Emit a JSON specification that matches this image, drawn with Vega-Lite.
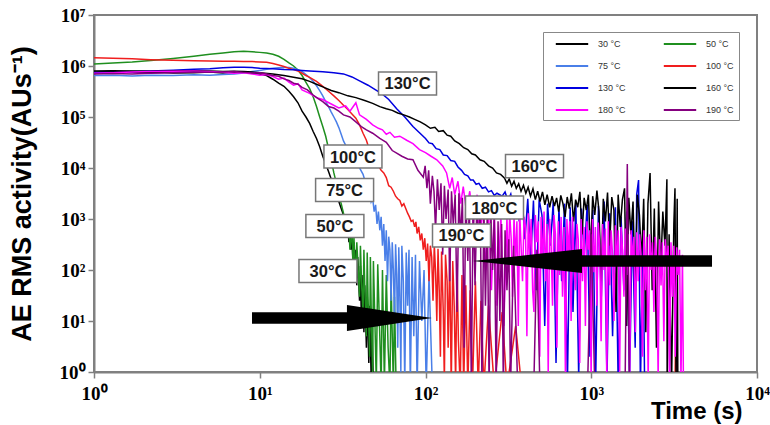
{
"$schema":"https://vega.github.io/schema/vega-lite/v6.json",
"width":663,"height":357,
"autosize":"none",
"padding":{"left":94,"top":15,"right":13,"bottom":53},
"background":"white",
"view":{"stroke":"#808080","strokeWidth":2},
"config":{"font":"Liberation Sans"},
"datasets":{
"curves":[
{"s":30,"t":1,"v":7.5e5},{"s":30,"t":1.2,"v":7.8e5},{"s":30,"t":1.5,"v":7.6e5},{"s":30,"t":2,"v":7.4e5},{"s":30,"t":2.5,"v":7.5e5},{"s":30,"t":3,"v":7.3e5},{"s":30,"t":4,"v":7.4e5},{"s":30,"t":5,"v":7.6e5},{"s":30,"t":6,"v":7.3e5},{"s":30,"t":7,"v":7.5e5},{"s":30,"t":8,"v":7.7e5},{"s":30,"t":9,"v":7.2e5},{"s":30,"t":10,"v":7.0e5},{"s":30,"t":11,"v":6.5e5},{"s":30,"t":12,"v":5.5e5},{"s":30,"t":13,"v":4.6e5},{"s":30,"t":14,"v":4.0e5},{"s":30,"t":15,"v":3.2e5},{"s":30,"t":16,"v":2.5e5},{"s":30,"t":17,"v":1.9e5},{"s":30,"t":18,"v":1.3e5},{"s":30,"t":19,"v":1.0e5},{"s":30,"t":20,"v":7.5e4},{"s":30,"t":21,"v":5.2e4},{"s":30,"t":22,"v":3.8e4},{"s":30,"t":23,"v":2.6e4},{"s":30,"t":24,"v":1.7e4},{"s":30,"t":25,"v":1.2e4},{"s":30,"t":26,"v":8.5e3},{"s":30,"t":27,"v":6e3},{"s":30,"t":28,"v":4.2e3},{"s":30,"t":29,"v":3.2e3},{"s":30,"t":30,"v":2.2e3},{"s":30,"t":31,"v":1.6e3},{"s":30,"t":32,"v":1.2e3},{"s":30,"t":33,"v":900},{"s":30,"t":33.5,"v":550},{"s":30,"t":34,"v":750},{"s":30,"t":34.5,"v":350},{"s":30,"t":35,"v":650},{"s":30,"t":35.5,"v":250},{"s":30,"t":36,"v":450},{"s":30,"t":36.5,"v":150},{"s":30,"t":37,"v":350},{"s":30,"t":37.5,"v":90},{"s":30,"t":38,"v":250},{"s":30,"t":38.5,"v":50},{"s":30,"t":39,"v":180},{"s":30,"t":40,"v":25},{"s":30,"t":40.5,"v":120},{"s":30,"t":41,"v":12},{"s":30,"t":42,"v":80},{"s":30,"t":42.5,"v":6},{"s":30,"t":43,"v":50},{"s":30,"t":44,"v":3},{"s":30,"t":44.5,"v":30},{"s":30,"t":45.5,"v":1.5},{"s":30,"t":46,"v":20},{"s":30,"t":47,"v":0.8},{"s":30,"t":47.5,"v":10},{"s":30,"t":48.5,"v":0.5},
{"s":50,"t":1,"v":1.1e6},{"s":50,"t":1.3,"v":1.15e6},{"s":50,"t":1.7,"v":1.2e6},{"s":50,"t":2.2,"v":1.28e6},{"s":50,"t":3,"v":1.4e6},{"s":50,"t":4,"v":1.55e6},{"s":50,"t":5,"v":1.7e6},{"s":50,"t":6,"v":1.8e6},{"s":50,"t":7,"v":1.9e6},{"s":50,"t":8,"v":1.95e6},{"s":50,"t":9,"v":1.9e6},{"s":50,"t":10,"v":1.85e6},{"s":50,"t":11,"v":1.8e6},{"s":50,"t":12,"v":1.7e6},{"s":50,"t":13,"v":1.55e6},{"s":50,"t":14,"v":1.35e6},{"s":50,"t":15,"v":1.15e6},{"s":50,"t":16,"v":1.0e6},{"s":50,"t":17,"v":8.3e5},{"s":50,"t":18,"v":6.5e5},{"s":50,"t":19,"v":4.8e5},{"s":50,"t":20,"v":3.6e5},{"s":50,"t":21,"v":2.5e5},{"s":50,"t":22,"v":1.6e5},{"s":50,"t":23,"v":1.0e5},{"s":50,"t":24,"v":6.5e4},{"s":50,"t":25,"v":4.2e4},{"s":50,"t":26,"v":2.4e4},{"s":50,"t":27,"v":1.4e4},{"s":50,"t":28,"v":8e3},{"s":50,"t":29,"v":5e3},{"s":50,"t":30,"v":2.8e3},{"s":50,"t":31,"v":2e3},{"s":50,"t":32,"v":1.3e3},{"s":50,"t":33,"v":950},{"s":50,"t":34,"v":500},{"s":50,"t":34.5,"v":700},{"s":50,"t":35,"v":250},{"s":50,"t":36,"v":600},{"s":50,"t":36.5,"v":120},{"s":50,"t":37,"v":450},{"s":50,"t":38,"v":60},{"s":50,"t":38.5,"v":350},{"s":50,"t":39,"v":150},{"s":50,"t":40,"v":30},{"s":50,"t":40.5,"v":300},{"s":50,"t":41,"v":80},{"s":50,"t":42,"v":12},{"s":50,"t":42.5,"v":250},{"s":50,"t":43,"v":50},{"s":50,"t":44,"v":5},{"s":50,"t":44.5,"v":220},{"s":50,"t":45,"v":30},{"s":50,"t":46,"v":2},{"s":50,"t":46.5,"v":180},{"s":50,"t":47,"v":20},{"s":50,"t":48,"v":0.8},{"s":50,"t":48.5,"v":150},{"s":50,"t":49.5,"v":10},{"s":50,"t":50.5,"v":0.6},{"s":50,"t":51.5,"v":130},{"s":50,"t":53,"v":5},{"s":50,"t":54,"v":0.5},{"s":50,"t":55,"v":100},{"s":50,"t":56.5,"v":0.6},{"s":50,"t":58,"v":80},{"s":50,"t":59.5,"v":3},{"s":50,"t":61,"v":0.5},{"s":50,"t":62,"v":60},{"s":50,"t":64,"v":0.5},{"s":50,"t":65,"v":30},{"s":50,"t":66.5,"v":0.5},
{"s":75,"t":1,"v":6.5e5},{"s":75,"t":1.3,"v":6.6e5},{"s":75,"t":1.7,"v":6.4e5},{"s":75,"t":2.2,"v":6.6e5},{"s":75,"t":3,"v":6.5e5},{"s":75,"t":4,"v":6.7e5},{"s":75,"t":5,"v":6.6e5},{"s":75,"t":6,"v":6.8e5},{"s":75,"t":7,"v":7e5},{"s":75,"t":8,"v":7.3e5},{"s":75,"t":9,"v":7.8e5},{"s":75,"t":10,"v":8.2e5},{"s":75,"t":11,"v":8.6e5},{"s":75,"t":12,"v":9e5},{"s":75,"t":13,"v":9.2e5},{"s":75,"t":14,"v":9.4e5},{"s":75,"t":15,"v":9.3e5},{"s":75,"t":16,"v":9e5},{"s":75,"t":17,"v":8.5e5},{"s":75,"t":18,"v":7.8e5},{"s":75,"t":19,"v":6.8e5},{"s":75,"t":20,"v":5.9e5},{"s":75,"t":21,"v":5e5},{"s":75,"t":22,"v":4.1e5},{"s":75,"t":23,"v":3.3e5},{"s":75,"t":24,"v":2.6e5},{"s":75,"t":25,"v":2e5},{"s":75,"t":26,"v":1.6e5},{"s":75,"t":27,"v":1.25e5},{"s":75,"t":28,"v":1e5},{"s":75,"t":29,"v":8e4},{"s":75,"t":30,"v":6.2e4},{"s":75,"t":31,"v":4.6e4},{"s":75,"t":32,"v":3.4e4},{"s":75,"t":34,"v":2.3e4},{"s":75,"t":36,"v":1.7e4},{"s":75,"t":38,"v":1.3e4},{"s":75,"t":40,"v":1e4},{"s":75,"t":42,"v":7.5e3},{"s":75,"t":44,"v":4.5e3},{"s":75,"t":45,"v":3e3},{"s":75,"t":46,"v":3.6e3},{"s":75,"t":47,"v":2.2e3},{"s":75,"t":48,"v":2.6e3},{"s":75,"t":49,"v":1.4e3},{"s":75,"t":50,"v":1.9e3},{"s":75,"t":51,"v":800},{"s":75,"t":52,"v":1.4e3},{"s":75,"t":53,"v":600},{"s":75,"t":54,"v":1.1e3},{"s":75,"t":55,"v":300},{"s":75,"t":56,"v":800},{"s":75,"t":57,"v":150},{"s":75,"t":58,"v":600},{"s":75,"t":59,"v":60},{"s":75,"t":60,"v":450},{"s":75,"t":61,"v":250},{"s":75,"t":62,"v":25},{"s":75,"t":63,"v":350},{"s":75,"t":64,"v":100},{"s":75,"t":65,"v":10},{"s":75,"t":66,"v":320},{"s":75,"t":67,"v":80},{"s":75,"t":68,"v":3},{"s":75,"t":69,"v":280},{"s":75,"t":70,"v":30},{"s":75,"t":71,"v":1},{"s":75,"t":72,"v":300},{"s":75,"t":73.5,"v":60},{"s":75,"t":75,"v":0.6},{"s":75,"t":76.5,"v":220},{"s":75,"t":78,"v":20},{"s":75,"t":79.5,"v":250},{"s":75,"t":81,"v":0.5},{"s":75,"t":83,"v":180},{"s":75,"t":85,"v":5},{"s":75,"t":87,"v":200},{"s":75,"t":89,"v":0.5},{"s":75,"t":92,"v":150},{"s":75,"t":95,"v":10},{"s":75,"t":98,"v":100},{"s":75,"t":101,"v":0.5},{"s":75,"t":105,"v":80},{"s":75,"t":110,"v":0.5},
{"s":100,"t":1,"v":1.45e6},{"s":100,"t":1.3,"v":1.42e6},{"s":100,"t":1.7,"v":1.38e6},{"s":100,"t":2.2,"v":1.33e6},{"s":100,"t":3,"v":1.3e6},{"s":100,"t":4,"v":1.27e6},{"s":100,"t":5,"v":1.25e6},{"s":100,"t":6,"v":1.24e6},{"s":100,"t":7,"v":1.24e6},{"s":100,"t":8,"v":1.22e6},{"s":100,"t":9,"v":1.22e6},{"s":100,"t":10,"v":1.2e6},{"s":100,"t":11,"v":1.18e6},{"s":100,"t":12,"v":1.12e6},{"s":100,"t":13,"v":1.05e6},{"s":100,"t":14,"v":9.8e5},{"s":100,"t":15,"v":9e5},{"s":100,"t":16,"v":8.5e5},{"s":100,"t":17,"v":8e5},{"s":100,"t":18,"v":7.2e5},{"s":100,"t":19,"v":6.5e5},{"s":100,"t":20,"v":6e5},{"s":100,"t":22,"v":5e5},{"s":100,"t":24,"v":4e5},{"s":100,"t":26,"v":3.2e5},{"s":100,"t":28,"v":2.6e5},{"s":100,"t":30,"v":2.1e5},{"s":100,"t":32,"v":1.7e5},{"s":100,"t":34,"v":1.4e5},{"s":100,"t":36,"v":1.15e5},{"s":100,"t":38,"v":9.5e4},{"s":100,"t":40,"v":7e4},{"s":100,"t":42,"v":4.8e4},{"s":100,"t":44,"v":3.5e4},{"s":100,"t":46,"v":2.2e4},{"s":100,"t":48,"v":2e4},{"s":100,"t":50,"v":1.4e4},{"s":100,"t":52,"v":1.1e4},{"s":100,"t":54,"v":9e3},{"s":100,"t":56,"v":8e3},{"s":100,"t":58,"v":6.5e3},{"s":100,"t":60,"v":4.5e3},{"s":100,"t":62,"v":4.2e3},{"s":100,"t":64,"v":3.5e3},{"s":100,"t":66,"v":2.8e3},{"s":100,"t":68,"v":2.5e3},{"s":100,"t":70,"v":2.3e3},{"s":100,"t":72,"v":1.8e3},{"s":100,"t":74,"v":2e3},{"s":100,"t":76,"v":1.6e3},{"s":100,"t":78,"v":1.3e3},{"s":100,"t":80,"v":1.1e3},{"s":100,"t":82,"v":900},{"s":100,"t":84,"v":950},{"s":100,"t":86,"v":700},{"s":100,"t":87.5,"v":880},{"s":100,"t":89,"v":520},{"s":100,"t":91,"v":700},{"s":100,"t":93,"v":380},{"s":100,"t":95,"v":520},{"s":100,"t":97,"v":250},{"s":100,"t":99,"v":420},{"s":100,"t":101,"v":150},{"s":100,"t":103,"v":330},{"s":100,"t":105,"v":60},{"s":100,"t":107,"v":300},{"s":100,"t":109,"v":180},{"s":100,"t":111,"v":25},{"s":100,"t":113,"v":320},{"s":100,"t":115,"v":90},{"s":100,"t":117,"v":10},{"s":100,"t":119,"v":260},{"s":100,"t":121,"v":40},{"s":100,"t":123,"v":2},{"s":100,"t":125,"v":230},{"s":100,"t":128,"v":15},{"s":100,"t":130,"v":0.6},{"s":100,"t":132,"v":200},{"s":100,"t":135,"v":60},{"s":100,"t":137,"v":3},{"s":100,"t":140,"v":180},{"s":100,"t":143,"v":0.5},{"s":100,"t":146,"v":150},{"s":100,"t":149,"v":20},{"s":100,"t":152,"v":0.6},{"s":100,"t":155,"v":120},{"s":100,"t":158,"v":4},{"s":100,"t":162,"v":0.5},{"s":100,"t":166,"v":80},{"s":100,"t":170,"v":0.5},{"s":100,"t":175,"v":50},{"s":100,"t":180,"v":0.5},{"s":100,"t":186,"v":40},{"s":100,"t":192,"v":0.5},{"s":100,"t":200,"v":60},{"s":100,"t":208,"v":0.5},{"s":100,"t":216,"v":25},{"s":100,"t":225,"v":0.5},{"s":100,"t":240,"v":20},{"s":100,"t":260,"v":0.5},{"s":100,"t":290,"v":15},{"s":100,"t":310,"v":0.5},{"s":100,"t":350,"v":8},{"s":100,"t":380,"v":0.5},{"s":100,"t":3200,"v":0.5},{"s":100,"t":3250,"v":30},{"s":100,"t":3300,"v":0.5},
{"s":130,"t":1,"v":7.5e5},{"s":130,"t":1.3,"v":7.6e5},{"s":130,"t":1.7,"v":7.8e5},{"s":130,"t":2.2,"v":8e5},{"s":130,"t":3,"v":8.3e5},{"s":130,"t":4,"v":8.6e5},{"s":130,"t":5,"v":8.8e5},{"s":130,"t":6,"v":9.2e5},{"s":130,"t":7,"v":9.5e5},{"s":130,"t":8,"v":9.5e5},{"s":130,"t":9,"v":9.3e5},{"s":130,"t":10,"v":9e5},{"s":130,"t":12,"v":8.8e5},{"s":130,"t":14,"v":8.5e5},{"s":130,"t":16,"v":8.4e5},{"s":130,"t":18,"v":8.2e5},{"s":130,"t":20,"v":8e5},{"s":130,"t":24,"v":7.7e5},{"s":130,"t":28,"v":7.4e5},{"s":130,"t":32,"v":7e5},{"s":130,"t":36,"v":6.1e5},{"s":130,"t":40,"v":5.1e5},{"s":130,"t":45,"v":4.2e5},{"s":130,"t":50,"v":3.4e5},{"s":130,"t":55,"v":2.8e5},{"s":130,"t":60,"v":2.2e5},{"s":130,"t":67,"v":1.45e5},{"s":130,"t":75,"v":1e5},{"s":130,"t":84,"v":6.5e4},{"s":130,"t":92,"v":4.9e4},{"s":130,"t":100,"v":3.8e4},{"s":130,"t":105,"v":3.1e4},{"s":130,"t":110,"v":3e4},{"s":130,"t":116,"v":2.4e4},{"s":130,"t":122,"v":2.3e4},{"s":130,"t":128,"v":1.8e4},{"s":130,"t":135,"v":1.75e4},{"s":130,"t":142,"v":1.4e4},{"s":130,"t":150,"v":1.35e4},{"s":130,"t":157,"v":1.05e4},{"s":130,"t":165,"v":9e3},{"s":130,"t":172,"v":7.5e3},{"s":130,"t":180,"v":7e3},{"s":130,"t":187,"v":5.8e3},{"s":130,"t":194,"v":5.8e3},{"s":130,"t":202,"v":4.8e3},{"s":130,"t":210,"v":5e3},{"s":130,"t":220,"v":4e3},{"s":130,"t":230,"v":4.2e3},{"s":130,"t":240,"v":3.4e3},{"s":130,"t":250,"v":3.6e3},{"s":130,"t":260,"v":2.9e3},{"s":130,"t":270,"v":3.2e3},{"s":130,"t":290,"v":2.8e3},{"s":130,"t":302,"v":3.4e3},{"s":130,"t":314,"v":2.3e3},{"s":130,"t":327,"v":3.1e3},{"s":130,"t":340,"v":1.5e3},{"s":130,"t":354,"v":2.8e3},{"s":130,"t":368,"v":900},{"s":130,"t":383,"v":2.6e3},{"s":130,"t":398,"v":400},{"s":130,"t":414,"v":2.5e3},{"s":130,"t":431,"v":150},{"s":130,"t":448,"v":2.3e3},{"s":130,"t":466,"v":40},{"s":130,"t":485,"v":2.4e3},{"s":130,"t":504,"v":1.2e3},{"s":130,"t":524,"v":8},{"s":130,"t":545,"v":2e3},{"s":130,"t":567,"v":300},{"s":130,"t":590,"v":2.2e3},{"s":130,"t":613,"v":1.5},{"s":130,"t":638,"v":1.8e3},{"s":130,"t":663,"v":60},{"s":130,"t":690,"v":2e3},{"s":130,"t":718,"v":0.6},{"s":130,"t":746,"v":1.7e3},{"s":130,"t":776,"v":15},{"s":130,"t":807,"v":2.1e3},{"s":130,"t":840,"v":0.8},{"s":130,"t":873,"v":1.6e3},{"s":130,"t":908,"v":200},{"s":130,"t":945,"v":1.9e3},{"s":130,"t":982,"v":2},{"s":130,"t":1022,"v":1.5e3},{"s":130,"t":1063,"v":0.6},{"s":130,"t":1105,"v":1.8e3},{"s":130,"t":1150,"v":30},{"s":130,"t":1196,"v":2.2e3},{"s":130,"t":1244,"v":0.7},{"s":130,"t":1293,"v":1.3e3},{"s":130,"t":1345,"v":5},{"s":130,"t":1399,"v":1.7e3},{"s":130,"t":1455,"v":0.5},{"s":130,"t":1513,"v":1.1e3},{"s":130,"t":1574,"v":40},{"s":130,"t":1637,"v":1.4e3},{"s":130,"t":1702,"v":0.6},{"s":130,"t":1770,"v":900},{"s":130,"t":1841,"v":3},{"s":130,"t":1880,"v":3e3},{"s":130,"t":1930,"v":5.8e3},{"s":130,"t":1980,"v":0.5},{"s":130,"t":2050,"v":600},{"s":130,"t":2100,"v":0.5},
{"s":160,"t":1,"v":8e5},{"s":160,"t":1.3,"v":8.1e5},{"s":160,"t":1.7,"v":8e5},{"s":160,"t":2.2,"v":7.9e5},{"s":160,"t":3,"v":8e5},{"s":160,"t":4,"v":8.1e5},{"s":160,"t":5,"v":8e5},{"s":160,"t":6,"v":7.8e5},{"s":160,"t":7,"v":7.9e5},{"s":160,"t":8,"v":7.8e5},{"s":160,"t":9,"v":7.6e5},{"s":160,"t":10,"v":7.4e5},{"s":160,"t":12,"v":7e5},{"s":160,"t":14,"v":6.5e5},{"s":160,"t":16,"v":6e5},{"s":160,"t":18,"v":5.6e5},{"s":160,"t":20,"v":5e5},{"s":160,"t":22,"v":4.4e5},{"s":160,"t":24,"v":3.9e5},{"s":160,"t":27,"v":3.3e5},{"s":160,"t":30,"v":3e5},{"s":160,"t":34,"v":2.6e5},{"s":160,"t":38,"v":2.4e5},{"s":160,"t":43,"v":2.1e5},{"s":160,"t":48,"v":1.85e5},{"s":160,"t":53,"v":1.6e5},{"s":160,"t":58,"v":1.45e5},{"s":160,"t":63,"v":1.35e5},{"s":160,"t":68,"v":1.2e5},{"s":160,"t":74,"v":1.1e5},{"s":160,"t":80,"v":1e5},{"s":160,"t":86,"v":9e4},{"s":160,"t":93,"v":8e4},{"s":160,"t":100,"v":7e4},{"s":160,"t":107,"v":6e4},{"s":160,"t":114,"v":6.3e4},{"s":160,"t":120,"v":5.2e4},{"s":160,"t":128,"v":5.4e4},{"s":160,"t":135,"v":4.4e4},{"s":160,"t":142,"v":4.2e4},{"s":160,"t":150,"v":3.4e4},{"s":160,"t":160,"v":3e4},{"s":160,"t":170,"v":2.5e4},{"s":160,"t":180,"v":2.3e4},{"s":160,"t":190,"v":1.9e4},{"s":160,"t":200,"v":1.8e4},{"s":160,"t":213,"v":1.45e4},{"s":160,"t":226,"v":1.35e4},{"s":160,"t":240,"v":1.1e4},{"s":160,"t":254,"v":1e4},{"s":160,"t":268,"v":8e3},{"s":160,"t":284,"v":7.5e3},{"s":160,"t":300,"v":6.3e3},{"s":160,"t":310,"v":5e3},{"s":160,"t":320,"v":6.1e3},{"s":160,"t":331,"v":4.4e3},{"s":160,"t":342,"v":5.5e3},{"s":160,"t":353,"v":4e3},{"s":160,"t":365,"v":4.9e3},{"s":160,"t":377,"v":3.5e3},{"s":160,"t":390,"v":4.6e3},{"s":160,"t":403,"v":3.2e3},{"s":160,"t":416,"v":4.2e3},{"s":160,"t":430,"v":2.8e3},{"s":160,"t":445,"v":3.9e3},{"s":160,"t":460,"v":2.4e3},{"s":160,"t":475,"v":3.5e3},{"s":160,"t":491,"v":2.2e3},{"s":160,"t":508,"v":3.4e3},{"s":160,"t":525,"v":1.9e3},{"s":160,"t":542,"v":3e3},{"s":160,"t":561,"v":1.7e3},{"s":160,"t":580,"v":2.8e3},{"s":160,"t":600,"v":1.8e3},{"s":160,"t":618,"v":2.6e3},{"s":160,"t":636,"v":1.4e3},{"s":160,"t":655,"v":2.9e3},{"s":160,"t":675,"v":2e3},{"s":160,"t":695,"v":1.1e3},{"s":160,"t":716,"v":2.7e3},{"s":160,"t":737,"v":1.6e3},{"s":160,"t":759,"v":3.2e3},{"s":160,"t":782,"v":900},{"s":160,"t":805,"v":2.4e3},{"s":160,"t":829,"v":1.7e3},{"s":160,"t":854,"v":3.4e3},{"s":160,"t":880,"v":500},{"s":160,"t":906,"v":2.6e3},{"s":160,"t":933,"v":1.5e3},{"s":160,"t":961,"v":3e3},{"s":160,"t":990,"v":200},{"s":160,"t":1020,"v":2.8e3},{"s":160,"t":1050,"v":1.2e3},{"s":160,"t":1082,"v":3.6e3},{"s":160,"t":1114,"v":1.4e3},{"s":160,"t":1147,"v":60},{"s":160,"t":1182,"v":2.5e3},{"s":160,"t":1217,"v":900},{"s":160,"t":1254,"v":3.3e3},{"s":160,"t":1291,"v":300},{"s":160,"t":1330,"v":2.7e3},{"s":160,"t":1370,"v":1.5e3},{"s":160,"t":1411,"v":15},{"s":160,"t":1453,"v":3e3},{"s":160,"t":1497,"v":700},{"s":160,"t":1542,"v":2.4e3},{"s":160,"t":1588,"v":4e3},{"s":160,"t":1636,"v":8},{"s":160,"t":1685,"v":2.6e3},{"s":160,"t":1735,"v":500},{"s":160,"t":1787,"v":2.2e3},{"s":160,"t":1841,"v":30},{"s":160,"t":1896,"v":3e3},{"s":160,"t":1953,"v":1.2e3},{"s":160,"t":2012,"v":150},{"s":160,"t":2072,"v":2.5e3},{"s":160,"t":2134,"v":6},{"s":160,"t":2198,"v":2e3},{"s":160,"t":2264,"v":8e3},{"s":160,"t":2332,"v":40},{"s":160,"t":2402,"v":1.6e3},{"s":160,"t":2474,"v":3},{"s":160,"t":2548,"v":2.2e3},{"s":160,"t":2625,"v":100},{"s":160,"t":2703,"v":1.4e3},{"s":160,"t":2784,"v":300},{"s":160,"t":2860,"v":6e3},{"s":160,"t":2870,"v":0.5},{"s":160,"t":2950,"v":500},{"s":160,"t":3050,"v":0.5},{"s":160,"t":3150,"v":800},{"s":160,"t":3200,"v":4e3},{"s":160,"t":3250,"v":0.6},{"s":160,"t":3300,"v":2.5e3},{"s":160,"t":3330,"v":0.5},
{"s":180,"t":1,"v":7.2e5},{"s":180,"t":1.3,"v":7.4e5},{"s":180,"t":1.7,"v":7.6e5},{"s":180,"t":2.2,"v":7.8e5},{"s":180,"t":3,"v":7.9e5},{"s":180,"t":4,"v":8e5},{"s":180,"t":5,"v":7.8e5},{"s":180,"t":6,"v":7.5e5},{"s":180,"t":7,"v":7.2e5},{"s":180,"t":8,"v":7.4e5},{"s":180,"t":9,"v":7e5},{"s":180,"t":10,"v":6.6e5},{"s":180,"t":11,"v":6.8e5},{"s":180,"t":12,"v":6.2e5},{"s":180,"t":13,"v":5.5e5},{"s":180,"t":14,"v":5.8e5},{"s":180,"t":15,"v":4.8e5},{"s":180,"t":16,"v":4.2e5},{"s":180,"t":17,"v":4.5e5},{"s":180,"t":18,"v":3.4e5},{"s":180,"t":20,"v":2.9e5},{"s":180,"t":22,"v":2.4e5},{"s":180,"t":24,"v":2.2e5},{"s":180,"t":27,"v":1.8e5},{"s":180,"t":30,"v":1.5e5},{"s":180,"t":33,"v":1.65e5},{"s":180,"t":35,"v":1.3e5},{"s":180,"t":38,"v":1.9e5},{"s":180,"t":40,"v":1.1e5},{"s":180,"t":44,"v":9e4},{"s":180,"t":48,"v":7e4},{"s":180,"t":52,"v":6e4},{"s":180,"t":55,"v":5.6e4},{"s":180,"t":58,"v":4.6e4},{"s":180,"t":61,"v":5e4},{"s":180,"t":65,"v":4e4},{"s":180,"t":70,"v":4.2e4},{"s":180,"t":77,"v":3.5e4},{"s":180,"t":84,"v":3e4},{"s":180,"t":92,"v":2.3e4},{"s":180,"t":100,"v":2e4},{"s":180,"t":108,"v":1.7e4},{"s":180,"t":117,"v":1.45e4},{"s":180,"t":127,"v":1.1e4},{"s":180,"t":134,"v":8e3},{"s":180,"t":140,"v":4e3},{"s":180,"t":145,"v":6.5e3},{"s":180,"t":150,"v":3e3},{"s":180,"t":157,"v":5.5e3},{"s":180,"t":163,"v":2e3},{"s":180,"t":169,"v":4.3e3},{"s":180,"t":176,"v":1.5e3},{"s":180,"t":185,"v":3.5e3},{"s":180,"t":194,"v":800},{"s":180,"t":205,"v":3e3},{"s":180,"t":213,"v":300},{"s":180,"t":222,"v":2e3},{"s":180,"t":231,"v":100},{"s":180,"t":240,"v":1.5e3},{"s":180,"t":250,"v":40},{"s":180,"t":260,"v":1.4e3},{"s":180,"t":270,"v":20},{"s":180,"t":285,"v":1.2e3},{"s":180,"t":297,"v":8},{"s":180,"t":310,"v":1100},{"s":180,"t":316,"v":90},{"s":180,"t":322,"v":1300},{"s":180,"t":329,"v":400},{"s":180,"t":335,"v":30},{"s":180,"t":342,"v":1200},{"s":180,"t":349,"v":150},{"s":180,"t":356,"v":900},{"s":180,"t":363,"v":8},{"s":180,"t":370,"v":1400},{"s":180,"t":378,"v":250},{"s":180,"t":385,"v":60},{"s":180,"t":393,"v":1100},{"s":180,"t":401,"v":700},{"s":180,"t":409,"v":5},{"s":180,"t":417,"v":1300},{"s":180,"t":425,"v":200},{"s":180,"t":434,"v":1000},{"s":180,"t":443,"v":40},{"s":180,"t":451,"v":15},{"s":180,"t":460,"v":1200},{"s":180,"t":470,"v":350},{"s":180,"t":479,"v":900},{"s":180,"t":489,"v":2},{"s":180,"t":498,"v":1100},{"s":180,"t":508,"v":120},{"s":180,"t":519,"v":1400},{"s":180,"t":529,"v":60},{"s":180,"t":540,"v":800},{"s":180,"t":550,"v":0.8},{"s":180,"t":561,"v":1000},{"s":180,"t":573,"v":300},{"s":180,"t":584,"v":20},{"s":180,"t":596,"v":1200},{"s":180,"t":608,"v":500},{"s":180,"t":620,"v":3},{"s":180,"t":633,"v":900},{"s":180,"t":645,"v":80},{"s":180,"t":658,"v":1100},{"s":180,"t":671,"v":30},{"s":180,"t":685,"v":700},{"s":180,"t":699,"v":0.6},{"s":180,"t":713,"v":1000},{"s":180,"t":727,"v":200},{"s":180,"t":741,"v":900},{"s":180,"t":756,"v":10},{"s":180,"t":771,"v":1100},{"s":180,"t":787,"v":150},{"s":180,"t":803,"v":40},{"s":180,"t":819,"v":800},{"s":180,"t":835,"v":400},{"s":180,"t":852,"v":1.5},{"s":180,"t":869,"v":1000},{"s":180,"t":886,"v":60},{"s":180,"t":904,"v":700},{"s":180,"t":922,"v":8},{"s":180,"t":941,"v":900},{"s":180,"t":960,"v":250},{"s":180,"t":979,"v":600},{"s":180,"t":998,"v":0.7},{"s":180,"t":1018,"v":1000},{"s":180,"t":1039,"v":90},{"s":180,"t":1059,"v":700},{"s":180,"t":1081,"v":20},{"s":180,"t":1102,"v":850},{"s":180,"t":1124,"v":300},{"s":180,"t":1147,"v":4},{"s":180,"t":1170,"v":800},{"s":180,"t":1193,"v":100},{"s":180,"t":1217,"v":650},{"s":180,"t":1241,"v":0.6},{"s":180,"t":1266,"v":900},{"s":180,"t":1292,"v":50},{"s":180,"t":1318,"v":600},{"s":180,"t":1344,"v":200},{"s":180,"t":1371,"v":10},{"s":180,"t":1398,"v":750},{"s":180,"t":1426,"v":120},{"s":180,"t":1455,"v":600},{"s":180,"t":1484,"v":1},{"s":180,"t":1514,"v":700},{"s":180,"t":1544,"v":250},{"s":180,"t":1575,"v":30},{"s":180,"t":1606,"v":650},{"s":180,"t":1638,"v":80},{"s":180,"t":1671,"v":500},{"s":180,"t":1705,"v":0.8},{"s":180,"t":1739,"v":600},{"s":180,"t":1774,"v":150},{"s":180,"t":1809,"v":450},{"s":180,"t":1845,"v":6},{"s":180,"t":1882,"v":550},{"s":180,"t":1920,"v":60},{"s":180,"t":1958,"v":500},{"s":180,"t":1997,"v":200},{"s":180,"t":2037,"v":2},{"s":180,"t":2078,"v":600},{"s":180,"t":2120,"v":40},{"s":180,"t":2162,"v":450},{"s":180,"t":2205,"v":0.6},{"s":180,"t":2249,"v":500},{"s":180,"t":2294,"v":100},{"s":180,"t":2340,"v":350},{"s":180,"t":2387,"v":15},{"s":180,"t":2435,"v":450},{"s":180,"t":2484,"v":150},{"s":180,"t":2533,"v":0.7},{"s":180,"t":2584,"v":400},{"s":180,"t":2636,"v":50},{"s":180,"t":2688,"v":350},{"s":180,"t":2742,"v":4},{"s":180,"t":2797,"v":400},{"s":180,"t":2853,"v":120},{"s":180,"t":2910,"v":300},{"s":180,"t":2968,"v":0.6},{"s":180,"t":3027,"v":350},{"s":180,"t":3088,"v":30},{"s":180,"t":3150,"v":300},{"s":180,"t":3213,"v":2},{"s":180,"t":3277,"v":280},{"s":180,"t":3343,"v":80},{"s":180,"t":3410,"v":250},{"s":180,"t":3478,"v":0.6},{"s":180,"t":3550,"v":200},{"s":180,"t":3600,"v":0.5},
{"s":190,"t":1,"v":7e5},{"s":190,"t":1.3,"v":7.1e5},{"s":190,"t":1.7,"v":7e5},{"s":190,"t":2.2,"v":7.2e5},{"s":190,"t":3,"v":7.4e5},{"s":190,"t":4,"v":7.6e5},{"s":190,"t":5,"v":7.5e5},{"s":190,"t":6,"v":7.6e5},{"s":190,"t":7,"v":7.8e5},{"s":190,"t":8,"v":7.5e5},{"s":190,"t":9,"v":7.3e5},{"s":190,"t":10,"v":7.4e5},{"s":190,"t":11,"v":7e5},{"s":190,"t":12,"v":6.5e5},{"s":190,"t":13,"v":6.3e5},{"s":190,"t":14,"v":5.6e5},{"s":190,"t":15,"v":5.2e5},{"s":190,"t":16,"v":4.6e5},{"s":190,"t":17,"v":4.4e5},{"s":190,"t":18,"v":3.8e5},{"s":190,"t":19.4,"v":3.4e5},{"s":190,"t":21,"v":2.7e5},{"s":190,"t":22.5,"v":2.3e5},{"s":190,"t":24,"v":2e5},{"s":190,"t":26,"v":1.6e5},{"s":190,"t":28,"v":1.5e5},{"s":190,"t":30,"v":1.3e5},{"s":190,"t":32,"v":1.1e5},{"s":190,"t":35,"v":1e5},{"s":190,"t":38,"v":8e4},{"s":190,"t":41,"v":6.5e4},{"s":190,"t":44,"v":5.6e4},{"s":190,"t":48,"v":4.8e4},{"s":190,"t":53,"v":3.8e4},{"s":190,"t":58,"v":3.2e4},{"s":190,"t":63,"v":2.2e4},{"s":190,"t":67,"v":1.95e4},{"s":190,"t":72,"v":1.7e4},{"s":190,"t":78,"v":1.5e4},{"s":190,"t":84,"v":1.45e4},{"s":190,"t":90,"v":9e3},{"s":190,"t":97,"v":6.6e3},{"s":190,"t":99.5,"v":1.1e4},{"s":190,"t":102,"v":4e3},{"s":190,"t":104.5,"v":9e3},{"s":190,"t":107,"v":2e3},{"s":190,"t":110,"v":7e3},{"s":190,"t":112.5,"v":3.5e3},{"s":190,"t":115,"v":600},{"s":190,"t":118,"v":6e3},{"s":190,"t":121,"v":1.5e3},{"s":190,"t":124,"v":5e3},{"s":190,"t":127,"v":200},{"s":190,"t":130,"v":4.5e3},{"s":190,"t":133,"v":1e3},{"s":190,"t":137,"v":3.8e3},{"s":190,"t":140,"v":60},{"s":190,"t":143.5,"v":3.5e3},{"s":190,"t":147,"v":800},{"s":190,"t":151,"v":3e3},{"s":190,"t":155,"v":15},{"s":190,"t":159,"v":3.2e3},{"s":190,"t":163,"v":400},{"s":190,"t":167,"v":2.6e3},{"s":190,"t":171,"v":3},{"s":190,"t":175,"v":2.8e3},{"s":190,"t":180,"v":150},{"s":190,"t":184,"v":2.2e3},{"s":190,"t":189,"v":0.6},{"s":190,"t":194,"v":2.4e3},{"s":190,"t":199,"v":50},{"s":190,"t":204,"v":1.8e3},{"s":190,"t":209,"v":300},{"s":190,"t":214,"v":2e3},{"s":190,"t":219,"v":0.6},{"s":190,"t":225,"v":1.6e3},{"s":190,"t":230,"v":20},{"s":190,"t":236,"v":1.5e3},{"s":190,"t":242,"v":0.5},{"s":190,"t":248,"v":1.3e3},{"s":190,"t":254,"v":100},{"s":190,"t":260,"v":1.1e3},{"s":190,"t":267,"v":0.5},{"s":190,"t":274,"v":900},{"s":190,"t":281,"v":10},{"s":190,"t":288,"v":800},{"s":190,"t":295,"v":0.5},{"s":190,"t":302,"v":600},{"s":190,"t":310,"v":40},{"s":190,"t":318,"v":400},{"s":190,"t":326,"v":0.5},{"s":190,"t":340,"v":300},{"s":190,"t":360,"v":0.5},{"s":190,"t":450,"v":0.5},{"s":190,"t":470,"v":250},{"s":190,"t":490,"v":0.5},{"s":190,"t":950,"v":0.5},{"s":190,"t":1000,"v":500},{"s":190,"t":1050,"v":0.5},{"s":190,"t":1600,"v":0.5},{"s":190,"t":1650,"v":1.2e4},{"s":190,"t":1700,"v":0.5}
],
"notes":[
{"label":"130°C","t":77.9,"v":4.54e5},{"label":"100°C","t":36.5,"v":1.68e4},{"label":"75°C","t":32.5,"v":3705},{"label":"50°C","t":28.4,"v":729},{"label":"30°C","t":25.8,"v":95.5},{"label":"190°C","t":164.9,"v":475},{"label":"180°C","t":260.8,"v":1680},{"label":"160°C","t":454.6,"v":1.09e4}
]
},
"layer":[
{"data":{"name":"curves"},
 "mark":{"type":"line","clip":true,"strokeWidth":1.5},
 "encoding":{
  "x":{"field":"t","type":"quantitative","scale":{"type":"log","domain":[1,10000],"nice":false},
   "axis":{"values":[1,10,100,1000,10000],"labelExpr":"'10' + ['⁰','¹','²','³','⁴','⁵','⁶','⁷'][round(log(datum.value)/LN10)]","labelFont":"Liberation Serif","labelFontWeight":"bold","labelFontSize":19,"labelColor":"#000","labelFlush":false,"labelOverlap":false,"labelPadding":6,"grid":false,"domainColor":"#808080","domainWidth":2,"tickColor":"#808080","tickWidth":1.5,"tickSize":6,"title":"Time (s)","titleFont":"Liberation Sans","titleFontSize":24,"titleFontWeight":"bold","titleColor":"#000","titleAnchor":"end","titleAlign":"right","titleX":648,"titleY":46,"titleBaseline":"alphabetic"}},
  "y":{"field":"v","type":"quantitative","scale":{"type":"log","domain":[1,10000000],"nice":false},
   "axis":{"values":[1,10,100,1000,10000,100000,1000000,10000000],"labelExpr":"'10' + ['⁰','¹','²','³','⁴','⁵','⁶','⁷'][round(log(datum.value)/LN10)]","labelFont":"Liberation Serif","labelFontWeight":"bold","labelFontSize":19,"labelColor":"#000","labelPadding":3,"labelOverlap":false,"grid":false,"domainColor":"#808080","domainWidth":2,"tickColor":"#808080","tickWidth":1.5,"tickSize":6,"title":"AE RMS activity(AUs⁻¹)","titleFont":"Liberation Sans","titleFontSize":27,"titleFontWeight":"bold","titleColor":"#000","titlePadding":23}},
  "color":{"field":"s","type":"nominal","scale":{"domain":[30,50,75,100,130,160,180,190],"range":["#000000","#1f8f1f","#4a7fe8","#f01e1e","#0000e0","#000000","#ff00ff","#85007f"]},
   "legend":{"orient":"none","legendX":449,"legendY":17,"columns":2,"direction":"horizontal","title":null,"symbolType":"M-2.7,0L2.7,0","symbolSize":144,"symbolStrokeWidth":2,"symbolOffset":17,"labelOffset":19,"labelExpr":"datum.label + ' °C'","labelFont":"Liberation Sans","labelFontSize":9,"labelColor":"#333","strokeColor":"#888","fillColor":"white","padding":5,"columnPadding":30,"rowPadding":10}}
 }},
{"data":{"values":[{"t1":8.98,"t2":46.3,"v":11.45},{"t1":491,"t2":5353,"v":150}]},
 "mark":{"type":"rule","color":"#000","strokeWidth":11.5,"strokeCap":"butt"},
 "encoding":{"x":{"field":"t1","type":"quantitative"},"x2":{"field":"t2"},"y":{"field":"v","type":"quantitative"}}},
{"data":{"values":[{"t":60.6,"v":11.45}]},
 "mark":{"type":"point","shape":"M-1,-0.306L1,0L-1,0.306Z","size":7225,"filled":true,"color":"#000","opacity":1,"strokeWidth":0},
 "encoding":{"x":{"field":"t","type":"quantitative"},"y":{"field":"v","type":"quantitative"}}},
{"data":{"values":[{"t":412.5,"v":150}]},
 "mark":{"type":"point","shape":"M1,-0.22L-1,0L1,0.22Z","size":11881,"filled":true,"color":"#000","opacity":1,"strokeWidth":0},
 "encoding":{"x":{"field":"t","type":"quantitative"},"y":{"field":"v","type":"quantitative"}}},
{"data":{"name":"notes"},
 "mark":{"type":"point","shape":"M-1,-0.4L1,-0.4L1,0.4L-1,0.4Z","size":3364,"filled":true,"fill":"white","stroke":"#777","strokeWidth":1.5,"opacity":1},
 "encoding":{"x":{"field":"t","type":"quantitative"},"y":{"field":"v","type":"quantitative"}}},
{"data":{"name":"notes"},
 "mark":{"type":"text","font":"Liberation Sans","fontWeight":"bold","fontSize":16.5,"color":"#1a1a1a","align":"center","baseline":"middle","dy":1},
 "encoding":{"x":{"field":"t","type":"quantitative"},"y":{"field":"v","type":"quantitative"},"text":{"field":"label"}}}
]
}
